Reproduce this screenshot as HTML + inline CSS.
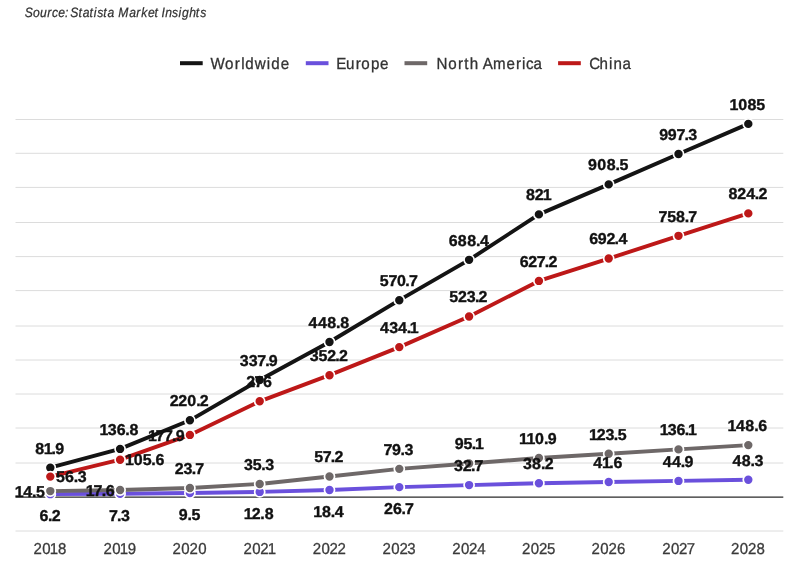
<!DOCTYPE html>
<html lang="en"><head><meta charset="utf-8"><title>Chart</title>
<style>
html,body{margin:0;padding:0;background:#fff;}
body{width:800px;height:566px;overflow:hidden;font-family:"Liberation Sans", sans-serif;}
svg{display:block;}
text{font-family:"Liberation Sans", sans-serif;text-rendering:geometricPrecision;}
.src{font-family:"Liberation Sans", sans-serif;font-style:italic;font-size:13.5px;fill:#333;stroke:#333;stroke-width:0.25px;}
.leg{font-size:16.1px;fill:#333;stroke:#333;stroke-width:0.3px;}
.xl{font-size:15.8px;fill:#3a3a3a;stroke:#3a3a3a;stroke-width:0.3px;}
.dl{font-size:15.7px;font-weight:bold;fill:#111;stroke:#111;stroke-width:0.35px;}
</style></head><body>
<svg width="800" height="566" viewBox="0 0 800 566">
<rect width="800" height="566" fill="#fff"/>
<text class="src" transform="translate(25.70,17.00) scale(0.9,1)" x="-1.15 8.05 15.88 24.06 29.36 36.29 43.57 46.88 49.63 58.66 63.37 70.83 75.59 79.64 86.30 91.01 98.48 102.80 114.95 122.73 128.25 135.89 143.10 147.28 151.01 155.10 162.67 169.65 173.69 181.64 189.05 194.03" y="0">Source: Statista Market Insights</text>
<rect x="180" y="61.2" width="22.7" height="4" fill="#141414"/>
<text class="leg" transform="translate(211.00,68.50) scale(0.94,1)" x="-0.60 14.80 25.17 32.22 36.43 46.56 59.22 64.04 74.09" y="0">Worldwide</text>
<rect x="305.8" y="61.2" width="22.7" height="4" fill="#6a50dc"/>
<text class="leg" transform="translate(337.00,68.50) scale(0.94,1)" x="-0.68 9.51 20.01 25.77 36.06 45.86" y="0">Europe</text>
<rect x="404.5" y="61.2" width="22.7" height="4" fill="#6e6868"/>
<text class="leg" transform="translate(436.50,68.50) scale(0.94,1)" x="0.08 12.38 22.87 29.48 35.41 45.00 49.12 60.17 74.53 84.63 90.97 95.35 103.23" y="0">North America</text>
<rect x="558.1" y="61.2" width="22.7" height="4" fill="#bd1818"/>
<text class="leg" transform="translate(590.00,68.50) scale(0.94,1)" x="-0.75 10.10 20.27 25.13 34.48" y="0">China</text>
<g stroke="#dcdcdc" stroke-width="1">
<line x1="15.5" x2="783.3" y1="119.5" y2="119.5"/>
<line x1="15.5" x2="783.3" y1="153.3" y2="153.3"/>
<line x1="15.5" x2="783.3" y1="187.4" y2="187.4"/>
<line x1="15.5" x2="783.3" y1="222.5" y2="222.5"/>
<line x1="15.5" x2="783.3" y1="256.6" y2="256.6"/>
<line x1="15.5" x2="783.3" y1="290.6" y2="290.6"/>
<line x1="15.5" x2="783.3" y1="326.0" y2="326.0"/>
<line x1="15.5" x2="783.3" y1="360.0" y2="360.0"/>
<line x1="15.5" x2="783.3" y1="394.0" y2="394.0"/>
<line x1="15.5" x2="783.3" y1="428.0" y2="428.0"/>
<line x1="15.5" x2="783.3" y1="463.0" y2="463.0"/>
<line x1="15.5" x2="783.3" y1="531.0" y2="531.0"/>
</g>
<line x1="15.5" x2="783.3" y1="497" y2="497" stroke="#2a2a2a" stroke-width="1.25"/>
<text class="xl" transform="translate(33.95,553.90) scale(0.95,1)" x="-0.36 8.71 16.64 25.31" y="0">2018</text>
<text class="xl" transform="translate(103.96,553.90) scale(0.95,1)" x="-0.36 8.71 16.64 25.03" y="0">2019</text>
<text class="xl" transform="translate(172.89,553.90) scale(0.95,1)" x="-0.36 8.83 17.44 26.64" y="0">2020</text>
<text class="xl" transform="translate(243.91,553.90) scale(0.95,1)" x="-0.36 8.83 17.24 24.98" y="0">2021</text>
<text class="xl" transform="translate(313.00,553.90) scale(0.95,1)" x="-0.36 8.83 17.44 25.91" y="0">2022</text>
<text class="xl" transform="translate(382.81,553.90) scale(0.95,1)" x="-0.36 8.83 17.44 25.78" y="0">2023</text>
<text class="xl" transform="translate(452.52,553.90) scale(0.95,1)" x="-0.36 8.83 17.44 26.11" y="0">2024</text>
<text class="xl" transform="translate(522.35,553.90) scale(0.95,1)" x="-0.36 8.83 17.44 26.02" y="0">2025</text>
<text class="xl" transform="translate(591.89,553.90) scale(0.95,1)" x="-0.36 8.83 17.44 26.51" y="0">2026</text>
<text class="xl" transform="translate(662.49,553.90) scale(0.95,1)" x="-0.36 8.83 17.41 25.50" y="0">2027</text>
<text class="xl" transform="translate(731.34,553.90) scale(0.95,1)" x="-0.36 8.83 17.44 26.59" y="0">2028</text>
<path d="M50.30,467.73 L120.10,448.91 L189.90,420.32 L259.70,379.98 L329.50,341.97 L399.30,300.18 L469.10,259.84 L538.90,214.39 L608.70,184.40 L678.50,153.96 L748.30,123.90" fill="none" stroke="#141414" stroke-width="3.9" stroke-linejoin="round" stroke-linecap="round"/>
<circle cx="50.30" cy="467.73" r="5.05" fill="#141414" stroke="#fff" stroke-width="1.7"/>
<circle cx="120.10" cy="448.91" r="5.05" fill="#141414" stroke="#fff" stroke-width="1.7"/>
<circle cx="189.90" cy="420.32" r="5.05" fill="#141414" stroke="#fff" stroke-width="1.7"/>
<circle cx="259.70" cy="379.98" r="5.05" fill="#141414" stroke="#fff" stroke-width="1.7"/>
<circle cx="329.50" cy="341.97" r="5.05" fill="#141414" stroke="#fff" stroke-width="1.7"/>
<circle cx="399.30" cy="300.18" r="5.05" fill="#141414" stroke="#fff" stroke-width="1.7"/>
<circle cx="469.10" cy="259.84" r="5.05" fill="#141414" stroke="#fff" stroke-width="1.7"/>
<circle cx="538.90" cy="214.39" r="5.05" fill="#141414" stroke="#fff" stroke-width="1.7"/>
<circle cx="608.70" cy="184.40" r="5.05" fill="#141414" stroke="#fff" stroke-width="1.7"/>
<circle cx="678.50" cy="153.96" r="5.05" fill="#141414" stroke="#fff" stroke-width="1.7"/>
<circle cx="748.30" cy="123.90" r="5.05" fill="#141414" stroke="#fff" stroke-width="1.7"/>

<path d="M50.30,494.17 L120.10,493.80 L189.90,493.04 L259.70,491.91 L329.50,489.99 L399.30,487.15 L469.10,485.09 L538.90,483.21 L608.70,482.04 L678.50,480.91 L748.30,479.74" fill="none" stroke="#6a50dc" stroke-width="3.9" stroke-linejoin="round" stroke-linecap="round"/>
<circle cx="50.30" cy="494.17" r="5.05" fill="#6a50dc" stroke="#fff" stroke-width="1.7"/>
<circle cx="120.10" cy="493.80" r="5.05" fill="#6a50dc" stroke="#fff" stroke-width="1.7"/>
<circle cx="189.90" cy="493.04" r="5.05" fill="#6a50dc" stroke="#fff" stroke-width="1.7"/>
<circle cx="259.70" cy="491.91" r="5.05" fill="#6a50dc" stroke="#fff" stroke-width="1.7"/>
<circle cx="329.50" cy="489.99" r="5.05" fill="#6a50dc" stroke="#fff" stroke-width="1.7"/>
<circle cx="399.30" cy="487.15" r="5.05" fill="#6a50dc" stroke="#fff" stroke-width="1.7"/>
<circle cx="469.10" cy="485.09" r="5.05" fill="#6a50dc" stroke="#fff" stroke-width="1.7"/>
<circle cx="538.90" cy="483.21" r="5.05" fill="#6a50dc" stroke="#fff" stroke-width="1.7"/>
<circle cx="608.70" cy="482.04" r="5.05" fill="#6a50dc" stroke="#fff" stroke-width="1.7"/>
<circle cx="678.50" cy="480.91" r="5.05" fill="#6a50dc" stroke="#fff" stroke-width="1.7"/>
<circle cx="748.30" cy="479.74" r="5.05" fill="#6a50dc" stroke="#fff" stroke-width="1.7"/>

<path d="M50.30,491.08 L120.10,490.02 L189.90,487.93 L259.70,483.95 L329.50,476.44 L399.30,468.87 L469.10,463.45 L538.90,458.04 L608.70,453.72 L678.50,449.40 L748.30,445.12" fill="none" stroke="#6e6868" stroke-width="3.9" stroke-linejoin="round" stroke-linecap="round"/>
<circle cx="50.30" cy="491.08" r="5.05" fill="#6e6868" stroke="#fff" stroke-width="1.7"/>
<circle cx="120.10" cy="490.02" r="5.05" fill="#6e6868" stroke="#fff" stroke-width="1.7"/>
<circle cx="189.90" cy="487.93" r="5.05" fill="#6e6868" stroke="#fff" stroke-width="1.7"/>
<circle cx="259.70" cy="483.95" r="5.05" fill="#6e6868" stroke="#fff" stroke-width="1.7"/>
<circle cx="329.50" cy="476.44" r="5.05" fill="#6e6868" stroke="#fff" stroke-width="1.7"/>
<circle cx="399.30" cy="468.87" r="5.05" fill="#6e6868" stroke="#fff" stroke-width="1.7"/>
<circle cx="469.10" cy="463.45" r="5.05" fill="#6e6868" stroke="#fff" stroke-width="1.7"/>
<circle cx="538.90" cy="458.04" r="5.05" fill="#6e6868" stroke="#fff" stroke-width="1.7"/>
<circle cx="608.70" cy="453.72" r="5.05" fill="#6e6868" stroke="#fff" stroke-width="1.7"/>
<circle cx="678.50" cy="449.40" r="5.05" fill="#6e6868" stroke="#fff" stroke-width="1.7"/>
<circle cx="748.30" cy="445.12" r="5.05" fill="#6e6868" stroke="#fff" stroke-width="1.7"/>

<path d="M50.30,476.60 L120.10,459.70 L189.90,434.92 L259.70,401.30 L329.50,375.18 L399.30,347.11 L469.10,316.57 L538.90,280.92 L608.70,258.57 L678.50,235.84 L748.30,213.39" fill="none" stroke="#bd1818" stroke-width="3.9" stroke-linejoin="round" stroke-linecap="round"/>
<circle cx="50.30" cy="476.60" r="5.05" fill="#bd1818" stroke="#fff" stroke-width="1.7"/>
<circle cx="120.10" cy="459.70" r="5.05" fill="#bd1818" stroke="#fff" stroke-width="1.7"/>
<circle cx="189.90" cy="434.92" r="5.05" fill="#bd1818" stroke="#fff" stroke-width="1.7"/>
<circle cx="259.70" cy="401.30" r="5.05" fill="#bd1818" stroke="#fff" stroke-width="1.7"/>
<circle cx="329.50" cy="375.18" r="5.05" fill="#bd1818" stroke="#fff" stroke-width="1.7"/>
<circle cx="399.30" cy="347.11" r="5.05" fill="#bd1818" stroke="#fff" stroke-width="1.7"/>
<circle cx="469.10" cy="316.57" r="5.05" fill="#bd1818" stroke="#fff" stroke-width="1.7"/>
<circle cx="538.90" cy="280.92" r="5.05" fill="#bd1818" stroke="#fff" stroke-width="1.7"/>
<circle cx="608.70" cy="258.57" r="5.05" fill="#bd1818" stroke="#fff" stroke-width="1.7"/>
<circle cx="678.50" cy="235.84" r="5.05" fill="#bd1818" stroke="#fff" stroke-width="1.7"/>
<circle cx="748.30" cy="213.39" r="5.05" fill="#bd1818" stroke="#fff" stroke-width="1.7"/>

<text class="dl" transform="translate(35.47,453.53) scale(1.02,1)" x="-0.13 8.00 15.74 19.49" y="0">81.9</text>
<text class="dl" transform="translate(100.63,434.71) scale(1.02,1)" x="-1.02 6.87 15.71 24.15 28.42" y="0">136.8</text>
<text class="dl" transform="translate(170.37,406.12) scale(1.02,1)" x="-0.55 7.85 16.58 25.27 28.91" y="0">220.2</text>
<text class="dl" transform="translate(240.94,365.78) scale(1.02,1)" x="-1.07 7.58 15.92 23.76 27.38" y="0">337.9</text>
<text class="dl" transform="translate(308.72,327.77) scale(1.02,1)" x="-0.14 9.13 18.12 26.72 31.00" y="0">448.8</text>
<text class="dl" transform="translate(380.72,285.98) scale(1.02,1)" x="-0.92 7.56 15.85 24.12 27.61" y="0">570.7</text>
<text class="dl" transform="translate(448.50,245.64) scale(1.02,1)" x="0.18 9.10 18.27 26.90 30.83" y="0">688.4</text>
<text class="dl" transform="translate(526.18,200.19) scale(1.02,1)" x="-0.17 8.39 16.36" y="0">821</text>
<text class="dl" transform="translate(588.08,170.20) scale(1.02,1)" x="0.02 9.10 18.27 26.96 30.88" y="0">908.5</text>
<text class="dl" transform="translate(659.17,139.76) scale(1.02,1)" x="0.02 8.53 16.89 24.74 28.55" y="0">997.3</text>
<text class="dl" transform="translate(730.46,109.70) scale(1.02,1)" x="-1.02 7.58 16.76 25.42" y="0">1085</text>
<text class="dl" transform="translate(39.27,520.97) scale(1.02,1)" x="0.18 8.62 12.26" y="0">6.2</text>
<text class="dl" transform="translate(109.69,520.60) scale(1.02,1)" x="-0.73 7.13 10.98" y="0">7.3</text>
<text class="dl" transform="translate(178.66,519.84) scale(1.02,1)" x="0.02 8.55 12.47" y="0">9.5</text>
<text class="dl" transform="translate(244.79,518.71) scale(1.02,1)" x="-1.02 6.89 15.20 19.47" y="0">12.8</text>
<text class="dl" transform="translate(314.38,516.79) scale(1.02,1)" x="-1.02 7.52 16.15 20.08" y="0">18.4</text>
<text class="dl" transform="translate(384.50,513.95) scale(1.02,1)" x="-0.43 8.34 16.71 20.21" y="0">26.7</text>
<text class="dl" transform="translate(454.73,470.89) scale(1.02,1)" x="-0.66 7.83 15.86 19.36" y="0">32.7</text>
<text class="dl" transform="translate(523.54,469.01) scale(1.02,1)" x="-0.45 8.41 17.09 20.74" y="0">38.2</text>
<text class="dl" transform="translate(594.20,467.84) scale(1.02,1)" x="-0.84 7.68 14.83 18.92" y="0">41.6</text>
<text class="dl" transform="translate(662.74,466.71) scale(1.02,1)" x="-0.11 9.15 17.60 21.30" y="0">44.9</text>
<text class="dl" transform="translate(732.43,465.54) scale(1.02,1)" x="0.08 9.12 17.80 21.68" y="0">48.3</text>
<text class="dl" transform="translate(15.68,496.98) scale(1.02,1)" x="-1.02 7.41 15.96 19.88" y="0">14.5</text>
<text class="dl" transform="translate(86.91,495.92) scale(1.02,1)" x="-1.02 6.59 14.45 18.52" y="0">17.6</text>
<text class="dl" transform="translate(175.49,473.73) scale(1.02,1)" x="-0.70 7.90 15.94 19.44" y="0">23.7</text>
<text class="dl" transform="translate(244.55,469.75) scale(1.02,1)" x="-0.54 7.98 16.38 20.26" y="0">35.3</text>
<text class="dl" transform="translate(315.15,462.24) scale(1.02,1)" x="-0.97 7.51 15.36 18.98" y="0">57.2</text>
<text class="dl" transform="translate(384.48,454.67) scale(1.02,1)" x="-0.93 7.43 15.74 19.61" y="0">79.3</text>
<text class="dl" transform="translate(455.01,449.25) scale(1.02,1)" x="-0.20 8.30 16.39 19.57" y="0">95.1</text>
<text class="dl" transform="translate(520.20,443.84) scale(1.02,1)" x="-1.12 6.11 14.62 23.31 27.06" y="0">110.9</text>
<text class="dl" transform="translate(589.93,439.52) scale(1.02,1)" x="-1.03 6.63 15.23 23.33 27.25" y="0">123.5</text>
<text class="dl" transform="translate(660.78,435.20) scale(1.02,1)" x="-1.02 6.87 15.45 23.42 26.61" y="0">136.1</text>
<text class="dl" transform="translate(728.55,430.92) scale(1.02,1)" x="-1.02 7.41 16.44 25.13 29.22" y="0">148.6</text>
<text class="dl" transform="translate(56.30,481.80) scale(1.02,1)" x="-0.31 8.64 17.08 20.95" y="0">56.3</text>
<text class="dl" transform="translate(126.10,464.90) scale(1.02,1)" x="-1.02 7.58 16.25 24.73 28.83" y="0">105.6</text>
<text class="dl" transform="translate(149.43,440.82) scale(1.02,1)" x="-1.41 6.10 14.33 22.17 25.78" y="0">177.9</text>
<text class="dl" transform="translate(247.06,387.10) scale(1.02,1)" x="-0.92 7.37 15.70" y="0">276</text>
<text class="dl" transform="translate(310.46,360.98) scale(1.02,1)" x="-0.73 7.79 16.39 24.32 27.97" y="0">352.2</text>
<text class="dl" transform="translate(380.90,332.91) scale(1.02,1)" x="-0.95 8.11 16.83 25.24 28.42" y="0">434.1</text>
<text class="dl" transform="translate(450.10,302.37) scale(1.02,1)" x="-0.84 7.75 16.34 24.31 27.93" y="0">523.2</text>
<text class="dl" transform="translate(520.13,266.72) scale(1.02,1)" x="-0.45 8.00 16.26 24.10 27.71" y="0">627.2</text>
<text class="dl" transform="translate(589.08,244.37) scale(1.02,1)" x="0.06 8.54 17.02 24.99 28.92" y="0">692.4</text>
<text class="dl" transform="translate(659.74,221.64) scale(1.02,1)" x="-1.14 7.27 15.91 24.48 27.98" y="0">758.7</text>
<text class="dl" transform="translate(728.73,199.19) scale(1.02,1)" x="-0.17 8.37 17.08 25.51 29.13" y="0">824.2</text>
</svg>
</body></html>
